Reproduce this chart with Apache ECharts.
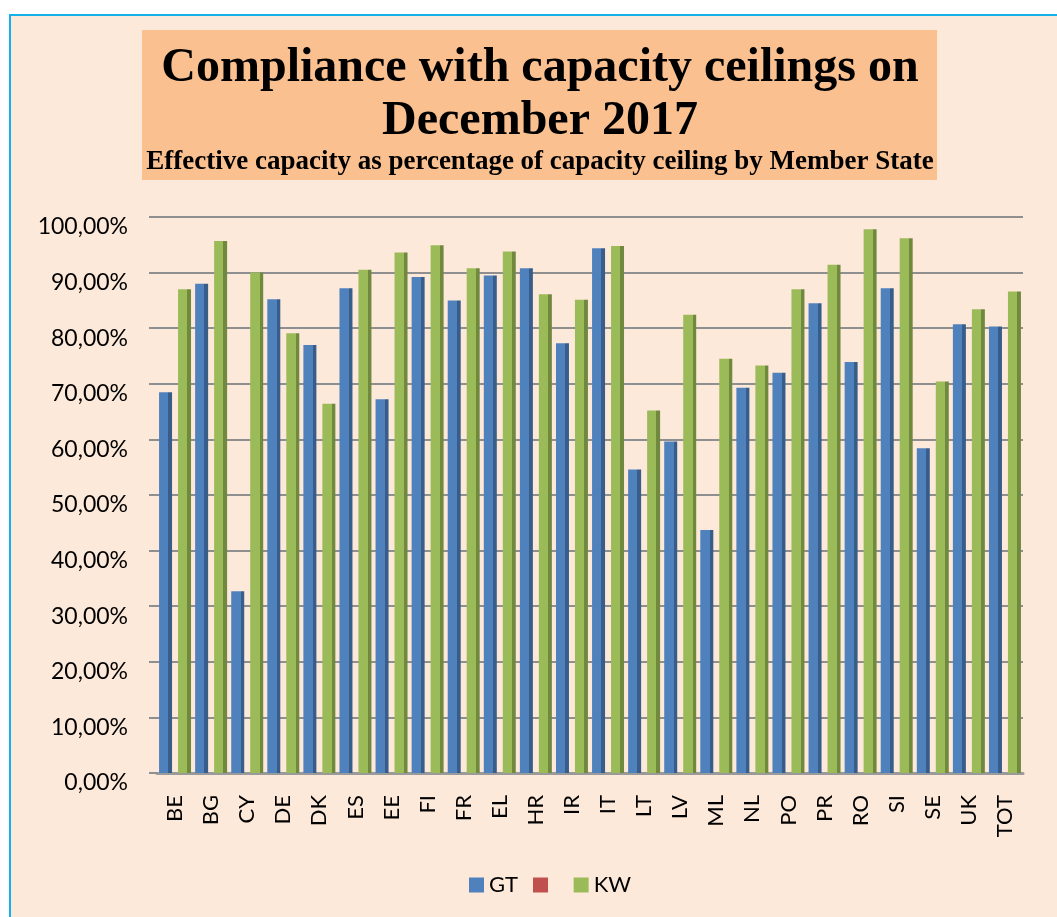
<!DOCTYPE html>
<html>
<head>
<meta charset="utf-8">
<script src="https://cdn.jsdelivr.net/npm/echarts@6/dist/echarts.min.js"></script>
<style>
  html, body { margin: 0; padding: 0; background: #fff; }
  #frame {
    position: absolute; left: 9px; top: 14px;
    width: 1100px; height: 950px;
    border: 2px solid #13b1e8;
    background: #fde9d9;
  }
  #chart { position: absolute; left: 0; top: 0; width: 1057px; height: 917px; }
</style>
</head>
<body>
<div id="frame"></div>
<div id="chart"></div>
<script>
// member states
var categories = ['BE', 'BG', 'CY', 'DE', 'DK', 'ES', 'EE', 'FI', 'FR', 'EL', 'HR', 'IR',
  'IT', 'LT', 'LV', 'ML', 'NL', 'PO', 'PR', 'RO', 'SI', 'SE', 'UK', 'TOT'];
// effective capacity as % of ceiling
var gtValues = [68.5, 88.0, 32.7, 85.2, 77.0, 87.2, 67.2, 89.2, 85.0, 89.5, 90.8, 77.3,
  94.4, 54.6, 59.6, 43.7, 69.3, 72.0, 84.5, 73.9, 87.2, 58.4, 80.7, 80.3];
var kwValues = [87.0, 95.7, 90.0, 79.1, 66.4, 90.5, 93.6, 94.9, 90.8, 93.8, 86.1, 85.1,
  94.8, 65.2, 82.4, 74.5, 73.3, 87.0, 91.4, 97.8, 96.2, 70.4, 83.4, 86.6];
var yTicks = { min: 0, max: 100, interval: 10 };

var blue = '#4f81bd', red = '#c0504d', green = '#9bbb59';

// front face + darker side face, like the excel 3d columns
function face(main, side) {
  return new echarts.graphic.LinearGradient(0, 0, 1, 0, [
    { offset: 0, color: main },
    { offset: 0.72, color: main },
    { offset: 0.72, color: side },
    { offset: 1, color: side }
  ]);
}

var titleFont = 'bold 48px "Liberation Serif", "Times New Roman", serif';

var chart = echarts.init(document.getElementById('chart'));
chart.setOption({
  backgroundColor: 'transparent',
  animation: false,
  graphic: [
    { type: 'rect', shape: { x: 142, y: 30, width: 795, height: 150 }, style: { fill: '#fac090' }, z: 0 },
    { type: 'text', style: { x: 540, y: 69, text: 'Compliance with capacity ceilings on', align: 'center', verticalAlign: 'middle',
        font: titleFont, fill: '#000' }, z: 1 },
    { type: 'text', style: { x: 540, y: 122, text: 'December 2017', align: 'center', verticalAlign: 'middle',
        font: titleFont, fill: '#000' }, z: 1 },
    { type: 'text', style: { x: 540, y: 162, text: 'Effective capacity as percentage of capacity ceiling by Member State', align: 'center', verticalAlign: 'middle',
        font: 'bold 27px "Liberation Serif", "Times New Roman", serif', fill: '#000' }, z: 1 }
  ],
  grid: { left: 157, right: 34, top: 217, bottom: 144 },
  legend: {
    data: [
      { name: 'GT', itemStyle: { color: blue } },
      { name: ' ', itemStyle: { color: red } },
      { name: 'KW', itemStyle: { color: green } }
    ],
    top: 869,
    left: 464,
    icon: 'rect',
    itemWidth: 15,
    itemHeight: 15,
    itemGap: 15,
    textStyle: { fontFamily: 'Lato', fontSize: 22, color: '#000' }
  },
  xAxis: {
    type: 'category',
    data: categories,
    axisLine: { lineStyle: { color: '#9a9a9a', width: 3 } },
    axisTick: { show: false },
    axisLabel: { rotate: 90, margin: 22, fontFamily: 'Lato', fontSize: 22, color: '#000' }
  },
  yAxis: {
    type: 'value',
    min: yTicks.min,
    max: yTicks.max,
    interval: yTicks.interval,
    axisLine: { show: false },
    axisTick: { show: true, length: 8, lineStyle: { color: '#8f8f8f', width: 2 } },
    splitLine: { lineStyle: { color: '#8f8f8f', width: 2 } },
    axisLabel: {
      margin: 29,
      color: '#000',
      formatter: function (v) { return '{p|' + v.toFixed(2).replace('.', ',') + '%}'; },
      rich: { p: { fontFamily: 'Lato', fontSize: 23, color: '#000', padding: [20, 0, 0, 0] } }
    }
  },
  series: [
    { name: 'GT', type: 'bar', data: gtValues, barWidth: 13, barGap: '46%',
      itemStyle: { color: face(blue, '#385d8a') } },
    // third legend entry has no label and no data in the original
    { name: ' ', type: 'line', data: [], itemStyle: { color: red } },
    { name: 'KW', type: 'bar', data: kwValues, barWidth: 13, barGap: '46%',
      itemStyle: { color: face(green, '#71893f') } }
  ]
});
</script>
</body>
</html>
